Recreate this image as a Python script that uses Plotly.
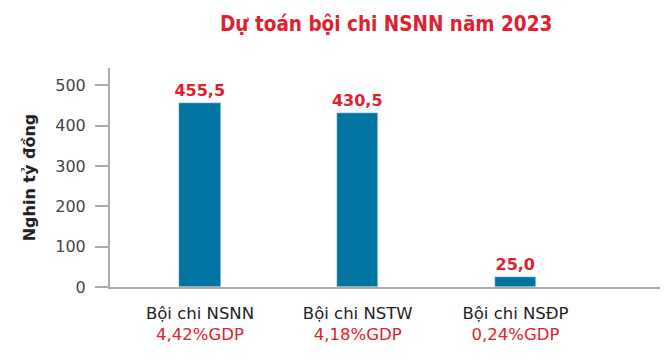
import plotly.graph_objects as go

categories = ["Bội chi NSNN", "Bội chi NSTW", "Bội chi NSĐP"]
values = [455.5, 430.5, 25.0]
value_labels = ["455,5", "430,5", "25,0"]
gdp_labels = ["4,42%GDP", "4,18%GDP", "0,24%GDP"]
y_ticks = [0, 100, 200, 300, 400, 500]

RED = "#e1202d"
BLUE = "#0274a1"
FONT = "DejaVu Sans, Noto Sans, sans-serif"

xs = list(range(len(categories)))
ticktext = [f"{c}<br><span style='color:{RED}'>{g}</span>" for c, g in zip(categories, gdp_labels)]

fig = go.Figure()
fig.add_trace(go.Bar(
    x=xs, y=values, width=0.26, marker_color=BLUE,
    text=[f"<b>{t}</b>" for t in value_labels], textposition="outside",
    textfont=dict(color=RED, size=16, family=FONT), constraintext="none",
    cliponaxis=False, showlegend=False,
))

fig.update_layout(
    width=660, height=355,
    margin=dict(l=102, r=0, t=60, b=76),
    paper_bgcolor="white", plot_bgcolor="white",
    title=dict(text="<b>Dự toán bội chi NSNN năm 2023</b>",
               font=dict(family="DejaVu Sans Condensed, Liberation Sans Narrow, sans-serif", size=20.5, color=RED),
               x=0.573, xanchor="center", y=0.955, yanchor="middle"),
    font=dict(family=FONT, color="#333333"),
    bargap=0,
)
fig.update_xaxes(
    range=[-0.5705, 2.967], tickmode="array", tickvals=xs, ticktext=ticktext,
    showline=True, linecolor="#aaaaaa", linewidth=2, ticks="",
    showgrid=False, zeroline=False, automargin=False, ticklabelstandoff=10,
    tickfont=dict(size=16.5, color="#222222", family=FONT),
)
fig.update_yaxes(
    range=[0, 543], tickmode="array", tickvals=y_ticks,
    showline=True, linecolor="#aaaaaa", linewidth=2,
    ticks="outside", ticklen=13, tickcolor="#aaaaaa", tickwidth=2,
    showgrid=False, zeroline=False, automargin=False, ticklabelstandoff=6,
    tickfont=dict(size=16, color="#444444", family=FONT),
    title=dict(text="<b>Nghin tỷ đồng</b>", font=dict(size=16, color="#222222", family=FONT), standoff=16),
)

fig.write_html("out.html")
